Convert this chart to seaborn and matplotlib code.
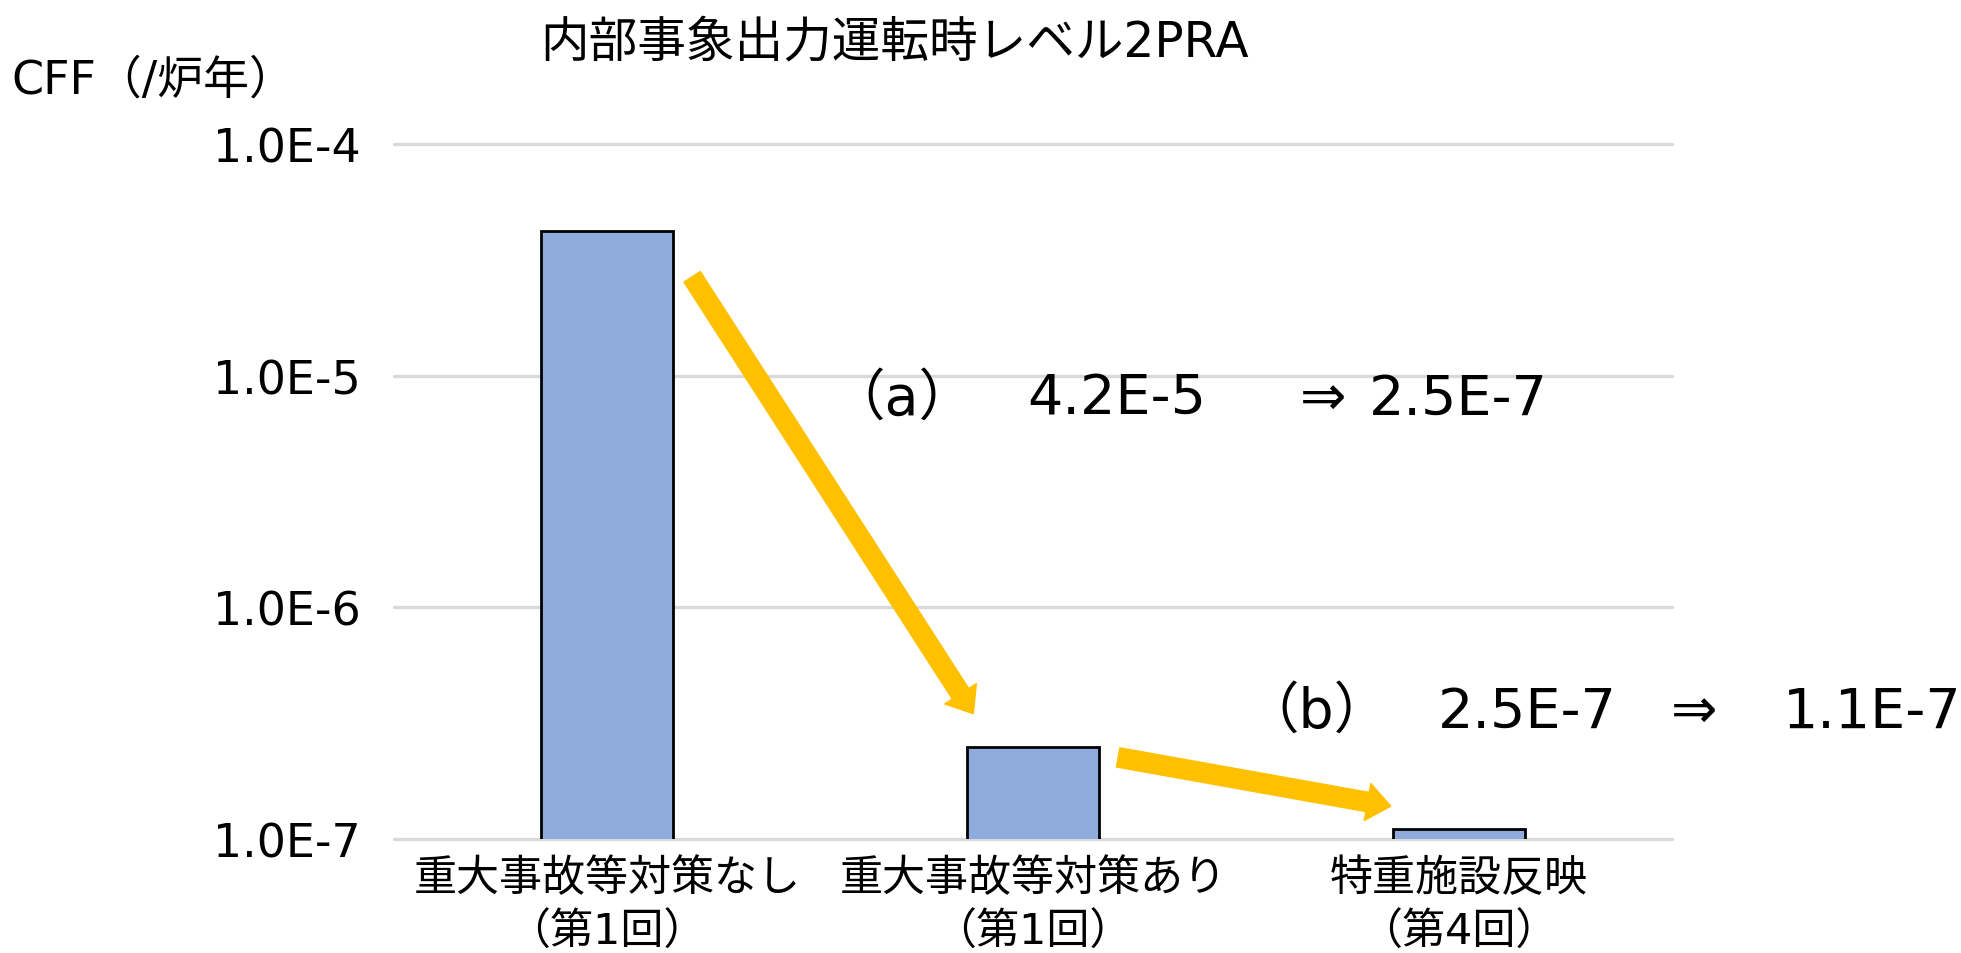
import matplotlib
matplotlib.use("Agg")
import pandas as pd
import seaborn as sns
from matplotlib import pyplot as plt
from matplotlib.patches import FancyArrowPatch, ArrowStyle

# data
categories = ["重大事故等対策なし\n（第1回）", "重大事故等対策あり\n（第1回）", "特重施設反映\n（第4回）"]
cff = [4.2e-5, 2.5e-7, 1.1e-7]
ytick_values = [1e-7, 1e-6, 1e-5, 1e-4]
ytick_labels = ["1.0E-7", "1.0E-6", "1.0E-5", "1.0E-4"]

# change annotations (a) and (b)
change_tags = ["（a）", "（b）"]
change_from = ["4.2E-5", "2.5E-7"]
change_to = ["2.5E-7", "1.1E-7"]

# arrow anchors relative to bars: (x offset, factor of bar value)
arrow_start = [(0.20, 0.636), (0.20, 0.90)]
arrow_end = [(-0.14, 1.39), (-0.16, 1.26)]

sns.set_theme(style="white")
plt.rcParams["font.family"] = ["DejaVu Sans", "Noto Sans CJK JP"]
plt.rcParams["text.color"] = "black"
plt.rcParams["xtick.color"] = "black"
plt.rcParams["ytick.color"] = "black"

df = pd.DataFrame({"cat": categories, "cff": cff})

fig = plt.figure(figsize=(19.61, 9.54), dpi=100)
ax = fig.add_axes([0.2009, 0.1195, 0.6517, 0.7285])

sns.barplot(data=df, x="cat", y="cff", ax=ax, color="#8FAADC", saturation=1,
            width=0.31, edgecolor="black", linewidth=2, zorder=3)
ax.set_yscale("log")
ax.set_ylim(1e-7, 1e-4)
ax.set_xlim(-0.5, 2.5)

ax.set_yticks(ytick_values)
ax.set_yticklabels(ytick_labels, fontsize=33)
ax.minorticks_off()
ax.yaxis.grid(True, color="#D9D9D9", linewidth=2.4, zorder=0)
ax.set_axisbelow(True)
for gl in ax.yaxis.get_gridlines():
    gl.set_clip_on(False)
ax.tick_params(axis="y", length=0, pad=24)
ax.tick_params(axis="x", length=0, pad=13, labelsize=31)
for lbl in ax.get_xticklabels():
    lbl.set_linespacing(1.35)
ax.set_xlabel("")
ax.set_ylabel("")
sns.despine(ax=ax, left=True, bottom=True, top=True, right=True)

# yellow arrows between consecutive bars
for i in range(len(cff) - 1):
    sx, sf = arrow_start[i]
    ex, ef = arrow_end[i]
    arr = FancyArrowPatch((i + sx, cff[i] * sf), (i + 1 + ex, cff[i + 1] * ef),
                          arrowstyle=ArrowStyle.Simple(head_length=17, head_width=27, tail_width=14),
                          mutation_scale=1, color="#FFC000", shrinkA=0, shrinkB=0,
                          zorder=4, clip_on=False)
    ax.add_patch(arr)

# text annotations
row_y = [0.581, 0.2526]
row_x = [(0.423, 0.524, 0.663, 0.698), (0.634, 0.733, 0.852, 0.909)]
for i in range(2):
    xs = row_x[i]
    for x, s in zip(xs, [change_tags[i], change_from[i], "⇒", change_to[i]]):
        fig.text(x, row_y[i], s, fontsize=40, ha="left", va="center")

fig.text(0.456, 0.956, "内部事象出力運転時レベル2PRA", fontsize=35, ha="center", va="center")
fig.text(0.006, 0.915, "CFF（/炉年）", fontsize=33, ha="left", va="center")

fig.savefig("out.png", dpi=100)
